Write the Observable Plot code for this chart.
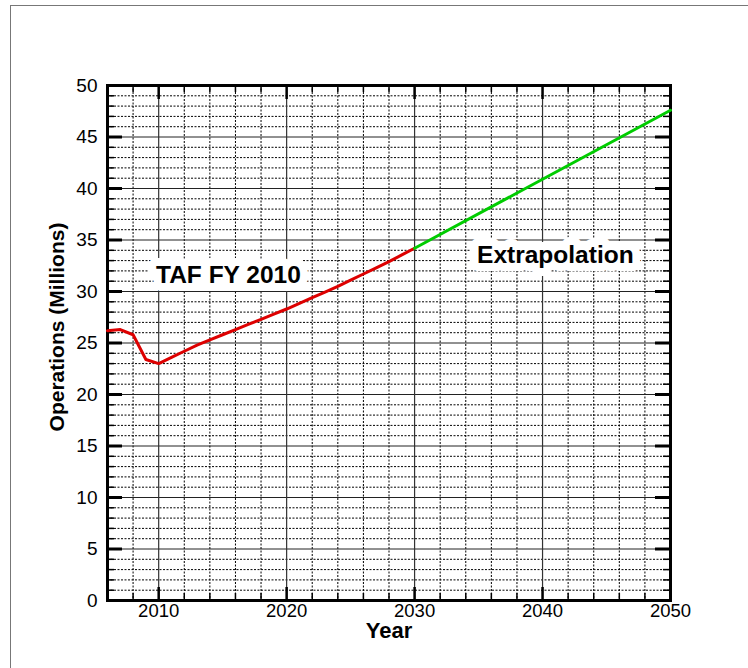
<!DOCTYPE html>
<html><head><meta charset="utf-8">
<script src="https://cdn.jsdelivr.net/npm/d3@7"></script>
<script src="https://cdn.jsdelivr.net/npm/@observablehq/plot@0.6"></script>
<style>
body{margin:0;background:#fff;}
#wrap{position:relative;width:748px;height:668px;overflow:hidden;background:#fff;}
#border{position:absolute;left:10px;top:5px;width:800px;height:800px;border-left:1px solid #777;border-top:1px solid #777;pointer-events:none;}
#chart{position:absolute;left:0;top:0;}
</style></head><body>
<div id="wrap"><div id="chart"></div><div id="border"></div></div>
<script>
// Data
const tafYears = [2006,2007,2008,2009,2010,2011,2012,2013,2014,2015,2016,2017,2018,2019,2020,2021,2022,2023,2024,2025,2026,2027,2028,2029,2030];
const tafOps   = [26.2,26.3,25.8,23.4,23.0,23.6,24.2,24.8,25.3,25.8,26.3,26.8,27.3,27.8,28.3,28.85,29.4,29.95,30.5,31.1,31.7,32.3,32.9,33.55,34.2];
const extYears = [2030,2040,2050];
const extOps   = [34.2,40.9,47.6];
const xTicks = [2010,2020,2030,2040,2050];
const xMinor = [2008,2012,2014,2016,2018,2022,2024,2026,2028,2032,2034,2036,2038,2042,2044,2046,2048];
const yTicks = [0,5,10,15,20,25,30,35,40,45,50];
const yMinor = d3.range(1,50).filter(v => v % 5 !== 0);
const xLabel = "Year";
const yLabel = "Operations (Millions)";
const notes = [{text:"TAF FY 2010", x:2015.45, y:31.6}, {text:"Extrapolation", x:2041, y:33.5}];

const W = 748, H = 668, mL = 107, mR = 78, mT = 85, mB = 68;
const X0 = 2006, X1 = 2050, Y0 = 0, Y1 = 50;
const pxX = (W - mL - mR) / (X1 - X0);
const pxY = (H - mT - mB) / (Y1 - Y0);
const taf = tafYears.map((x,i) => ({x, y: tafOps[i]}));
const ext = extYears.map((x,i) => ({x, y: extOps[i]}));
const font = "Liberation Sans, Arial, Helvetica, sans-serif";
const dash = "2,1.5";

const chart = Plot.plot({
  width: W, height: H,
  marginLeft: mL, marginRight: mR, marginTop: mT, marginBottom: mB,
  style: {fontFamily: font, background: "#fff", color: "#000"},
  x: {domain: [X0, X1]},
  y: {domain: [Y0, Y1]},
  marks: [
    // minor dotted grid
    Plot.ruleY(yMinor, {stroke: "#000", strokeWidth: 1, strokeDasharray: dash}),
    Plot.ruleX(xMinor, {stroke: "#000", strokeWidth: 1, strokeDasharray: dash}),
    // major grid
    Plot.ruleY(yTicks, {stroke: "#222", strokeWidth: 1}),
    Plot.ruleX(xTicks, {stroke: "#333", strokeWidth: 1.2}),
    // inward ticks, left/right
    Plot.ruleY(yTicks, {x1: X0, x2: X0 + 15/pxX, stroke: "#000", strokeWidth: 3}),
    Plot.ruleY(yTicks, {x1: X1 - 15/pxX, x2: X1, stroke: "#000", strokeWidth: 3}),
    Plot.ruleY(yMinor, {x1: X0, x2: X0 + 7/pxX, stroke: "#000", strokeWidth: 1.5}),
    Plot.ruleY(yMinor, {x1: X1 - 7/pxX, x2: X1, stroke: "#000", strokeWidth: 1.5}),
    // inward ticks, bottom/top
    Plot.ruleX(xTicks, {y1: Y0, y2: Y0 + 13/pxY, stroke: "#000", strokeWidth: 2.5}),
    Plot.ruleX(xTicks, {y1: Y1 - 14/pxY, y2: Y1, stroke: "#000", strokeWidth: 2.5}),
    Plot.ruleX(xMinor, {y1: Y0, y2: Y0 + 7/pxY, stroke: "#000", strokeWidth: 1.5}),
    Plot.ruleX(xMinor, {y1: Y1 - 7/pxY, y2: Y1, stroke: "#000", strokeWidth: 1.5}),
    Plot.frame({stroke: "#000", strokeWidth: 3}),
    // annotations with white background
    Plot.text(notes, {x: "x", y: "y", text: "text", fontSize: 24.5, fontWeight: "bold", fill: "#000", stroke: "#fff", strokeWidth: 16, fontFamily: font}),
    // series
    Plot.line(taf, {x: "x", y: "y", stroke: "#dd0000", strokeWidth: 3}),
    Plot.line(ext, {x: "x", y: "y", stroke: "#00cc00", strokeWidth: 3}),
    // axes labels
    Plot.axisY(yTicks, {anchor: "left", tickSize: 0, tickPadding: 10, fontSize: 19, label: null, tickFormat: d => String(d)}),
    Plot.axisX(xTicks, {anchor: "bottom", tickSize: 0, tickPadding: 3, fontSize: 18.5, label: null, tickFormat: d => String(d)}),
    Plot.text([xLabel], {frameAnchor: "bottom", dy: 37, fontSize: 22, fontWeight: "bold", fill: "#000", textAnchor: "middle"}),
    Plot.text([yLabel], {frameAnchor: "left", dx: -50, dy: -16, rotate: -90, textAnchor: "middle", fontSize: 21, fontWeight: "bold", fill: "#000"})
  ]
});
document.getElementById("chart").appendChild(chart);
</script>
</body></html>
